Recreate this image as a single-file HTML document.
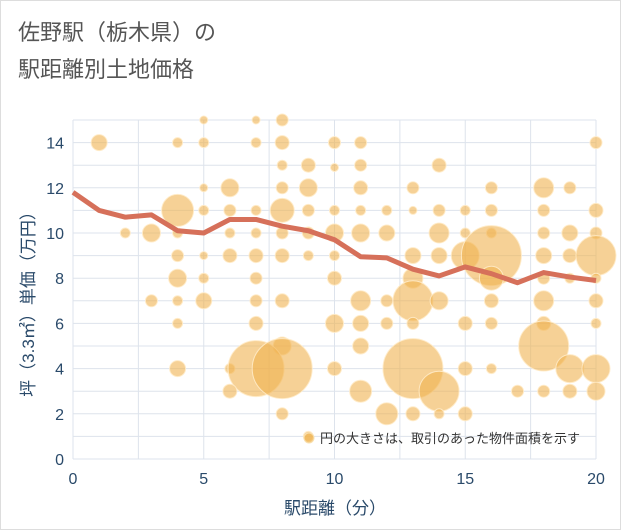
<!DOCTYPE html>
<html><head><meta charset="utf-8"><style>
body{margin:0;background:#fff;}
svg{display:block;font-family:"Liberation Sans","Noto Sans CJK JP",sans-serif;}
</style></head><body>
<svg id="chart" width="621" height="530">
<rect x="0.5" y="0.5" width="620" height="529" fill="#fff" stroke="#ddd"/>
<text x="18" y="40" font-size="22" fill="#555">佐野駅（栃木県）の</text>
<text x="18" y="77" font-size="22" fill="#555">駅距離別土地価格</text>
<g id="grid"></g>
<g id="bubbles"></g>
<g id="line"></g>
<g id="axes"></g>
<circle cx="309" cy="438" r="5" fill="rgba(240,180,80,0.7)" stroke="#f8e0b0"/>
<text x="320" y="443" font-size="13" fill="#333">円の大きさは、取引のあった物件面積を示す</text>
<text x="335" y="514" font-size="17" fill="#2a4a6a" text-anchor="middle">駅距離（分）</text>
<text transform="translate(34,300) rotate(-90)" font-size="17" fill="#2a4a6a" text-anchor="middle">坪（3.3㎡）単価（万円）</text>
</svg>
<script>
const xTicks=[0,5,10,15,20];
const yTicks=[0,2,4,6,8,10,12,14];
const lineX=[0,1,2,3,4,5,6,7,8,9,10,11,12,13,14,15,16,17,18,19,20];
const lineY=[11.8,11.0,10.7,10.8,10.1,10.0,10.6,10.6,10.3,10.1,9.7,8.95,8.9,8.4,8.1,8.5,8.2,7.8,8.25,8.05,7.9];
const bubbleX=[1,4,5,5,7,8,7,8,11,10,14,8,9,11,10,20,5,6,8,9,11,13,16,18,19,4,5,6,7,8,9,10,11,12,13,14,15,16,18,20,2,3,4,6,7,8,9,10,11,12,14,15,16,18,19,20,4,5,6,7,8,9,10,13,14,15,16,18,19,20,4,5,7,10,13,16,18,19,20,3,4,5,7,8,11,12,13,14,16,18,20,4,7,10,11,12,13,15,16,18,20,8,11,18,4,6,7,8,10,13,15,16,19,20,6,11,14,17,18,19,20,8,12,13,14,15,9];
const bubbleY=[14,14,15,14,15,15,14,14,14,14,13,13,13,13,12.9,14,12,12,12,12,12,12,12,12,12,11,11,11,11,11,11,11,11,11,11,11,11,11,11,11,10,10,10,10,10,10,10,10,10,10,10,10,10,10,10,10,9,9,9,9,9,9,9,9,9,9,9,9,9,9,8,8,8,8,8,8,8,8,8,7,7,7,7,7,7,7,7,7,7,7,7,6,6,6,6,6,6,6,6,6,6,5,5,5,4,4,4,4,4,4,4,4,4,4,3,3,3,3,3,3,3,2,2,2,2,2,1];
const bubbleR=[8,5,4,5,4,6,5,7,6,6,7,5,7,6,4,6,4,9,6,9,7,6,6,10,6,16,5,6,5,12,6,5,5,5,4,6,5,6,6,7,5,9,5,5,5,6,6,9,9,8,10,5,5,6,8,6,6,4,7,7,7,5,5,8,8,14,30,8,7,20,9,5,6,7,10,12,6,5,5,6,5,8,6,7,10,6,20,9,7,10,7,5,7,9,8,6,6,7,6,7,5,9,8,25,8,5,28,30,7,30,7,5,14,14,7,11,20,6,6,7,9,6,11,7,5,7,5];
const X0=73,X1=596,Y0=459,Y1=120;
const sx=v=>X0+v/20*(X1-X0);
const sy=v=>Y0-v/15*(Y0-Y1);
const NS="http://www.w3.org/2000/svg";
function mk(t,a,p){const e=document.createElementNS(NS,t);for(const k in a)e.setAttribute(k,a[k]);p.appendChild(e);return e;}
const grid=document.getElementById('grid'),axes=document.getElementById('axes');
for(let v=0;v<=20;v+=2.5){const g=mk('line',{x1:sx(v),x2:sx(v),y1:Y1,y2:Y0,stroke:'#dde3ec','stroke-width':1},grid);}
for(let v=0;v<=15;v+=1){const g=mk('line',{x1:X0,x2:X1,y1:sy(v),y2:sy(v),stroke:'#dde3ec','stroke-width':1},grid);}
xTicks.forEach(v=>{const t=mk('text',{x:sx(v),y:484,'font-size':16,fill:'#2a4a6a','text-anchor':'middle'},axes);t.textContent=v;});
yTicks.forEach(v=>{const t=mk('text',{x:64,y:sy(v)+6,'font-size':16,fill:'#2a4a6a','text-anchor':'end'},axes);t.textContent=v;});
const b=document.getElementById('bubbles');
bubbleX.forEach((x,i)=>{const c=mk('circle',{cx:sx(x),cy:sy(bubbleY[i]),r:bubbleR[i],fill:'rgba(240,178,80,0.6)',stroke:'rgba(255,235,200,0.9)','stroke-width':1},b);});
const ln=document.getElementById('line');
const p=mk('polyline',{points:lineX.map((x,i)=>sx(x)+','+sy(lineY[i])).join(' '),fill:'none',stroke:'#d6705a','stroke-width':5,'stroke-linejoin':'round'},ln);


</script>
</body></html>
